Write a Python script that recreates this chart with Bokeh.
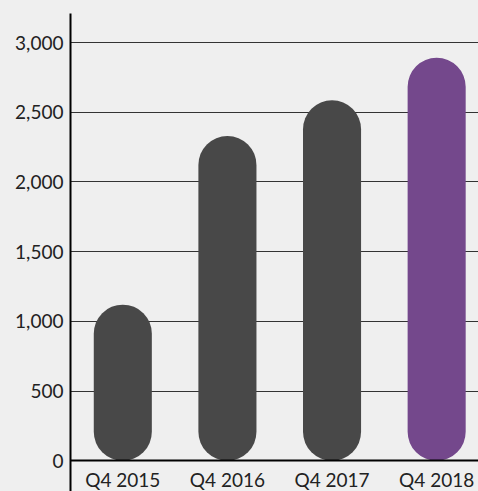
from bokeh.plotting import figure
from bokeh.models import Range1d, FixedTicker, ColumnDataSource, NumeralTickFormatter
from bokeh.embed import file_html
from bokeh.resources import INLINE

quarters = ["Q4 2015", "Q4 2016", "Q4 2017", "Q4 2018"]
values = [1120, 2330, 2585, 2890]
colors = ["#484848", "#484848", "#484848", "#74488c"]
y_ticks = [0, 500, 1000, 1500, 2000, 2500, 3000]

positions = [i + 0.5 for i in range(len(quarters))]

src = ColumnDataSource(dict(x=positions, top=values, color=colors, q=quarters))

BG = "#efefef"
FONT = "Lato"

p = figure(width=478, height=491, output_backend="svg", toolbar_location=None,
           x_range=Range1d(0, 3.9), y_range=Range1d(-220, 3208),
           min_border_left=70, min_border_right=0, min_border_top=13, min_border_bottom=0,
           background_fill_color=BG, border_fill_color=BG)
p.outline_line_color = None

p.vbar(x="x", top="top", bottom=0, width=0.555, fill_color="color", line_color=None,
       border_radius=29, source=src)

p.xaxis.fixed_location = 0
p.xaxis.ticker = FixedTicker(ticks=positions)
p.xaxis.major_label_overrides = {pos: q for pos, q in zip(positions, quarters)}
p.xaxis.axis_line_color = "#000000"
p.xaxis.axis_line_width = 2
p.xaxis.major_tick_line_color = None
p.xaxis.major_tick_out = 0
p.xaxis.major_tick_in = 0
p.xaxis.minor_tick_line_color = None
p.xaxis.major_label_standoff = 7
p.xaxis.major_label_text_font = FONT
p.xaxis.major_label_text_font_size = "19px"
p.xaxis.major_label_text_color = "#222222"
p.xgrid.visible = False

p.yaxis.ticker = FixedTicker(ticks=y_ticks)
p.yaxis.formatter = NumeralTickFormatter(format="0,0")
p.yaxis.axis_line_color = "#000000"
p.yaxis.axis_line_width = 2
p.yaxis.major_tick_line_color = None
p.yaxis.major_tick_out = 0
p.yaxis.major_tick_in = 0
p.yaxis.minor_tick_line_color = None
p.yaxis.major_label_standoff = 7
p.yaxis.major_label_text_font = FONT
p.yaxis.major_label_text_font_size = "19px"
p.yaxis.major_label_text_color = "#222222"

p.ygrid.grid_line_color = "#333333"
p.ygrid.grid_line_width = 1

html = file_html(p, INLINE)
html = html.replace("</head>",
                    "<style>html,body{margin:0;padding:0;overflow:hidden;background-color:%s;}</style></head>" % BG, 1)
open("out.html", "w").write(html)
